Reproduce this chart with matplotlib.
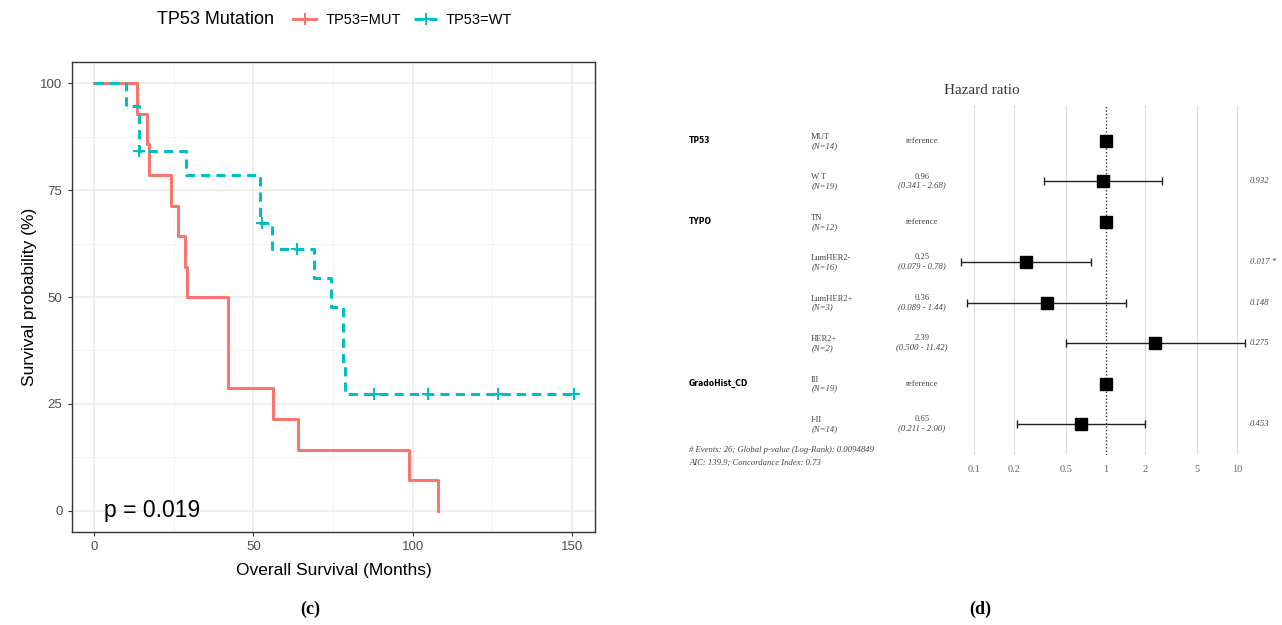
import numpy as np
import matplotlib
matplotlib.use("Agg")
import matplotlib.pyplot as plt
from matplotlib.lines import Line2D

# Kaplan-Meier curves (months, survival %)
mut_time = [0, 13.5, 16.6, 17.2, 24.2, 26.2, 28.6, 29.3, 42.0, 56.2, 63.9, 99.0, 108.0]
mut_surv = [100, 92.9, 85.7, 78.6, 71.4, 64.3, 57.1, 50.0, 28.6, 21.4, 14.3, 7.1, 0]
wt_time = [0, 9.9, 14.0, 28.9, 52.0, 56.0, 69.0, 74.3, 78.0, 78.8, 150.8]
wt_surv = [100, 94.7, 84.2, 78.6, 67.4, 61.3, 54.5, 47.7, 34.1, 27.3, 27.3]
wt_censor = [14.0, 52.8, 63.8, 87.8, 104.8, 126.8, 150.8]
p_text = "p = 0.019"

# Forest plot (Cox model)
fp_vars = ["TP53", "", "TYPO", "", "", "", "GradoHist_CD", ""]
fp_levels = ["MUT", "W T", "TN", "LumHER2-", "LumHER2+", "HER2+", "III", "I-II"]
fp_n = [14, 19, 12, 16, 3, 2, 19, 14]
fp_hr = [1.0, 0.96, 1.0, 0.25, 0.36, 2.39, 1.0, 0.65]
fp_lo = [np.nan, 0.341, np.nan, 0.079, 0.089, 0.500, np.nan, 0.211]
fp_hi = [np.nan, 2.68, np.nan, 0.78, 1.44, 11.42, np.nan, 2.00]
fp_ci_txt = ["", "(0.341 - 2.68)", "", "(0.079 - 0.78)", "(0.089 - 1.44)",
             "(0.500 - 11.42)", "", "(0.211 - 2.00)"]
fp_hr_txt = ["", "0.96", "", "0.25", "0.36", "2.39", "", "0.65"]
fp_p = ["", "0.932", "", "0.017 *", "0.148", "0.275", "", "0.453"]
fp_ticks = [0.1, 0.2, 0.5, 1, 2, 5, 10]
footer = ["# Events: 26; Global p-value (Log-Rank): 0.0094849",
          "AIC: 139.9; Concordance Index: 0.73"]

W, H = 1282, 625
fig = plt.figure(figsize=(W / 100, H / 100), dpi=100)
plt.rcParams["font.family"] = ["Liberation Sans", "DejaVu Sans"]

red = "#F8766D"
cyan = "#00BFC4"

# ---------- left: KM plot ----------
ax = fig.add_axes([71.5 / W, 1 - 532 / H, 524 / W, 470 / H])
ax.step(mut_time, mut_surv, where="post", color=red, lw=2.2, zorder=3)
ax.step(wt_time, wt_surv, where="post", color=cyan, lw=2.2, dashes=(3, 2), zorder=3)
idx = np.searchsorted(wt_time, wt_censor, side="right") - 1
ax.plot(wt_censor, np.array(wt_surv)[idx], ls="none", marker="+", ms=8, mew=1.5,
        color=cyan, zorder=4)

ax.set_xlim(-7.1, 157.4)
ax.set_ylim(-5, 105)
ax.set_xticks([0, 50, 100, 150])
ax.set_yticks([0, 25, 50, 75, 100])
ax.set_xticks([25, 75, 125], minor=True)
ax.set_yticks([12.5, 37.5, 62.5, 87.5], minor=True)
ax.grid(True, which="major", color="#EBEBEB", lw=1.1)
ax.grid(True, which="minor", color="#F2F2F2", lw=0.6)
ax.tick_params(which="minor", length=0)
ax.tick_params(which="major", length=3, width=0.8, color="#333333",
               labelcolor="#4D4D4D", labelsize=9.5)
ax.set_axisbelow(True)
for s in ax.spines.values():
    s.set_color("#333333")
    s.set_linewidth(1.0)
ax.set_xlabel("Overall Survival (Months)", fontsize=12.5, labelpad=7)
ax.set_ylabel("Survival probability (%)", fontsize=12.5, labelpad=2)
ax.text(3.2, 0, p_text, fontsize=16.5, va="center", ha="left")

fig.text(157 / W, 1 - 20 / H, "TP53 Mutation", fontsize=13, va="center", ha="left")
handles = [Line2D([], [], color=red, lw=2.2, marker="+", ms=8, mew=1.5),
           Line2D([], [], color=cyan, lw=2.2, dashes=(3, 2), marker="+", ms=8, mew=1.5)]
fig.legend(handles, ["TP53=MUT", "TP53=WT"], loc="center left",
           bbox_to_anchor=(280 / W, 1 - 20 / H), ncol=2, frameon=False,
           fontsize=10.5, handlelength=1.6, handletextpad=0.6, columnspacing=0.9)

# ---------- right: forest plot ----------
serif = ["Liberation Serif", "DejaVu Serif"]
fx0, fx1, fy0, fy1 = 955, 1250, 105, 455
fax = fig.add_axes([fx0 / W, 1 - fy1 / H, (fx1 - fx0) / W, (fy1 - fy0) / H])
fax.set_xscale("log")
lx0 = -1 + (fx0 - 974) / 131.5
lx1 = -1 + (fx1 - 974) / 131.5
fax.set_xlim(10 ** lx0, 10 ** lx1)
sp = 40.43
fax.set_ylim(7 + (fy1 - 424) / sp, -(141 - fy0) / sp)
for s in fax.spines.values():
    s.set_visible(False)
fax.set_yticks([])
fax.set_xticks(fp_ticks)
fax.set_xticklabels([f"{t:g}" for t in fp_ticks], family=serif)
fax.xaxis.set_minor_locator(matplotlib.ticker.NullLocator())
fax.tick_params(axis="x", length=0, labelsize=7.5, labelcolor="#666666", pad=7)
for t in fp_ticks:
    if t != 1:
        fax.axvline(t, color="#DDDDDD", lw=0.9, zorder=0)
fax.axvline(1, color="#333333", lw=1.0, ls=(0, (1, 1.5)), zorder=1)

rows = np.arange(len(fp_hr))
err_lo = np.array(fp_hr) - np.array(fp_lo)
err_hi = np.array(fp_hi) - np.array(fp_hr)
fax.errorbar(fp_hr, rows, xerr=[err_lo, err_hi], fmt="none", ecolor="#222222",
             elinewidth=1.0, capsize=3, capthick=1.0, zorder=2)
fax.plot(fp_hr, rows, ls="none", marker="s", ms=8, color="black", zorder=3)

fax.set_title("Hazard ratio", family=serif, fontsize=11, color="#333333", pad=8,
              x=(982 - fx0) / (fx1 - fx0))

trans = fax.get_yaxis_transform()


def ax_x(px):
    return (px - fx0) / (fx1 - fx0)


small = 6.2
for i in rows:
    if fp_vars[i]:
        fax.text(ax_x(689), i, fp_vars[i], transform=trans, fontsize=5.5,
                 fontweight="bold", family="DejaVu Sans", va="center", ha="left",
                 clip_on=False)
    fax.text(ax_x(811), i - 0.1, fp_levels[i], transform=trans, fontsize=small,
             family=serif, color="#444444", va="center", ha="left", clip_on=False)
    fax.text(ax_x(812), i + 0.12, f"(N={fp_n[i]})", transform=trans, fontsize=small,
             family=serif, style="italic", color="#444444", va="center", ha="left",
             clip_on=False)
    if fp_hr_txt[i]:
        fax.text(ax_x(922), i - 0.12, fp_hr_txt[i], transform=trans, fontsize=small,
                 family=serif, color="#444444", va="center", ha="center", clip_on=False)
        fax.text(ax_x(922), i + 0.1, fp_ci_txt[i], transform=trans, fontsize=small,
                 family=serif, style="italic", color="#444444", va="center",
                 ha="center", clip_on=False)
        fax.text(ax_x(1250), i, fp_p[i], transform=trans, fontsize=small,
                 family=serif, style="italic", color="#444444", va="center",
                 ha="left", clip_on=False)
    else:
        fax.text(ax_x(922), i, "reference", transform=trans, fontsize=small,
                 family=serif, color="#444444", va="center", ha="center", clip_on=False)

for k, line in enumerate(footer):
    fax.text(ax_x(689), (fy1 - (450 + 13 * k)) / (fy1 - fy0), line,
             transform=fax.transAxes, fontsize=small, family=serif, style="italic",
             color="#444444", va="center", ha="left", clip_on=False)

# captions
fig.text(310 / W, 1 - 609 / H, "(c)", family=serif, fontweight="bold", fontsize=13,
         ha="center", va="center")
fig.text(980 / W, 1 - 609 / H, "(d)", family=serif, fontweight="bold", fontsize=13,
         ha="center", va="center")

fig.savefig("out.png", dpi=100)
